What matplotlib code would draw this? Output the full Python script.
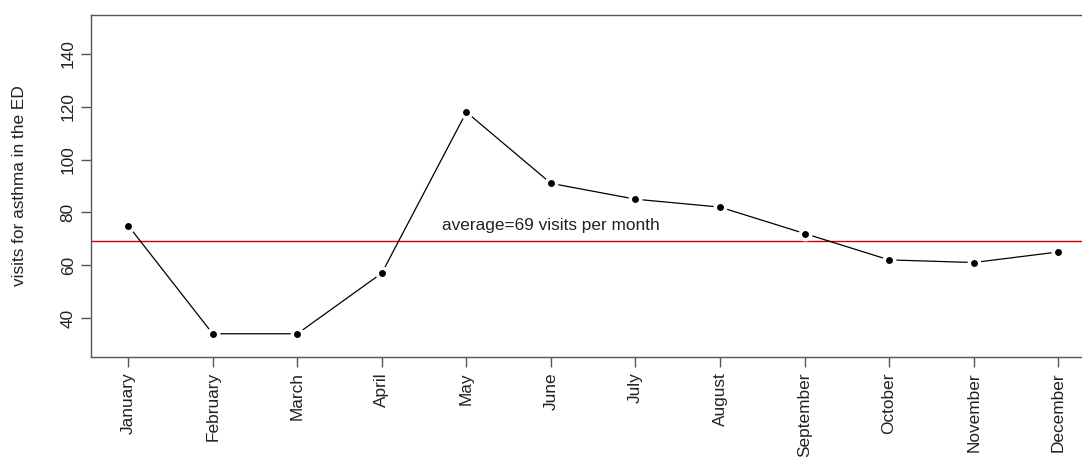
import matplotlib
matplotlib.use("Agg")
import matplotlib.pyplot as plt

months = ["January", "February", "March", "April", "May", "June", "July",
          "August", "September", "October", "November", "December"]
visits = [75, 34, 34, 57, 118, 91, 85, 82, 72, 62, 61, 65]
average = 69
avg_label = "average=69 visits per month"
yticks = [40, 60, 80, 100, 120, 140]

plt.rcParams['font.family'] = ['Liberation Sans', 'DejaVu Sans']
FS = 12.4

fig = plt.figure(figsize=(10.82, 4.61), dpi=100)
ax = fig.add_axes([91/1082, 1-357/461, 1004.4/1082, (357-15)/461])

x = list(range(1, len(months)+1))
ax.plot(x, visits, color='black', lw=0.9, marker='o', ms=7.5,
        markerfacecolor='black', markeredgecolor='white', markeredgewidth=2.5, zorder=3)
ax.axhline(average, color='#cc0000', lw=1.0, zorder=2)
ax.text(6, 75, avg_label, ha='center', va='center', fontsize=FS, color='#222222')

ax.set_xlim(0.56, 12.44)
ax.set_ylim(25.2, 154.8)
ax.set_xticks(x)
ax.set_xticklabels(months, rotation=90, fontsize=FS, color='#222222')
ax.set_yticks(yticks)
ax.set_yticklabels([str(v) for v in yticks], rotation=90, va='center', fontsize=FS, color='#222222')
ax.set_ylabel("visits for asthma in the ED", fontsize=FS, color='#222222')
ax.yaxis.set_label_coords(-64/1004.4, 0.5)
for s in ax.spines.values():
    s.set_color('#555555')
    s.set_linewidth(1.0)
ax.tick_params(length=7, width=1, color='#555555', pad=4)

fig.savefig("out.png", dpi=100)
